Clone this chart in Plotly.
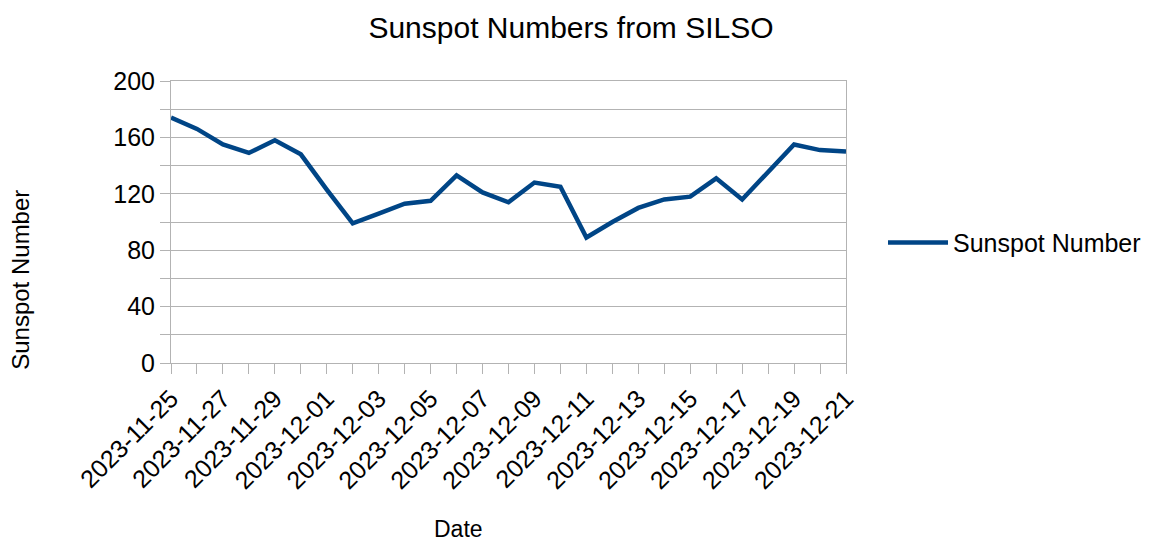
import plotly.graph_objects as go

dates = ['2023-11-25', '2023-11-26', '2023-11-27', '2023-11-28', '2023-11-29',
         '2023-11-30', '2023-12-01', '2023-12-02', '2023-12-03', '2023-12-04',
         '2023-12-05', '2023-12-06', '2023-12-07', '2023-12-08', '2023-12-09',
         '2023-12-10', '2023-12-11', '2023-12-12', '2023-12-13', '2023-12-14',
         '2023-12-15', '2023-12-16', '2023-12-17', '2023-12-18', '2023-12-19',
         '2023-12-20', '2023-12-21']
sunspots = [174, 166, 155, 149, 158, 148, 123, 99, 106, 113, 115, 133, 121, 114,
            128, 125, 89, 100, 110, 116, 118, 131, 116, 136, 155, 151, 150]
label_dates = dates[::2]

FONT = 'Liberation Sans'
GRID = '#b3b3b3'
DAY = 86400000

# the page body adds an 8px offset, so the figure is drawn 8px smaller
OFF = 8
W, H = 1156 - OFF, 541 - OFF
PL, PR, PT, PB = 171 - OFF, 846 - OFF, 81 - OFF, 363.3 - OFF
PW, PH = PR - PL, PB - PT

fig = go.Figure()
fig.add_trace(go.Scatter(x=dates, y=sunspots, mode='lines',
                         line=dict(color='#004586', width=4.5),
                         name='Sunspot Number'))

fig.update_layout(
    width=W, height=H,
    margin=dict(l=PL, r=W - PR, t=PT, b=H - PB, autoexpand=False),
    paper_bgcolor='white', plot_bgcolor='white',
    font=dict(family=FONT, color='black'),
    title=dict(text='Sunspot Numbers from SILSO', x=(571 - OFF) / W, xanchor='center',
               y=1 - (27 - OFF) / H, yanchor='middle', yref='container',
               font=dict(size=30, family=FONT, color='black')),
    showlegend=True,
    legend=dict(x=(883 - OFF - PL) / PW, xanchor='left',
                y=(PB - (243 - OFF)) / PH, yanchor='middle',
                font=dict(size=25, family=FONT), itemwidth=60,
                bgcolor='rgba(0,0,0,0)'),
)

fig.update_xaxes(
    type='date', range=[dates[0], dates[-1]],
    tickvals=label_dates, ticktext=label_dates, tickangle=-45,
    tickfont=dict(size=25, family=FONT),
    ticks='outside', ticklen=10, tickcolor=GRID,
    minor=dict(dtick=DAY, tick0=dates[0], ticks='outside', ticklen=10,
               tickcolor=GRID, showgrid=False),
    showgrid=False, showline=True, linecolor=GRID, linewidth=1, mirror=True,
    zeroline=False,
)
fig.update_yaxes(
    range=[0, 200], dtick=40, tick0=0,
    tickfont=dict(size=25, family=FONT),
    ticks='outside', ticklen=10, tickcolor=GRID,
    minor=dict(dtick=20, tick0=0, ticks='outside', ticklen=10, tickcolor=GRID,
               showgrid=True, gridcolor=GRID, gridwidth=1),
    showgrid=True, gridcolor=GRID, gridwidth=1,
    showline=True, linecolor=GRID, linewidth=1, mirror=True,
    zeroline=False,
)

fig.add_annotation(text='Sunspot Number', xref='paper', yref='paper',
                   x=(21 - OFF - PL) / PW, y=(PB - (280 - OFF)) / PH,
                   textangle=-90, showarrow=False,
                   xanchor='center', yanchor='middle',
                   font=dict(size=24, family=FONT, color='black'))
fig.add_annotation(text='Date', xref='paper', yref='paper',
                   x=(458 - OFF - PL) / PW, y=(PB - (529 - OFF)) / PH,
                   showarrow=False, xanchor='center', yanchor='middle',
                   font=dict(size=23, family=FONT, color='black'))

fig.write_html('out.html')
